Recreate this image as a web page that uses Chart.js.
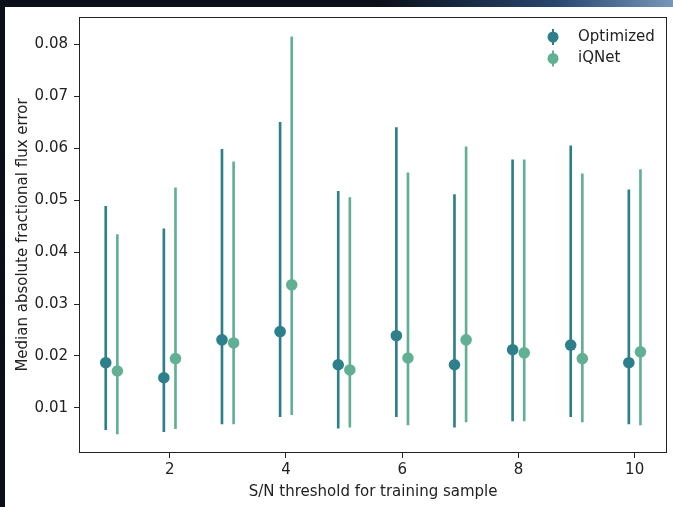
<!DOCTYPE html>
<html>
<head>
<meta charset="utf-8">
<script src="https://cdn.jsdelivr.net/npm/chart.js@4/dist/chart.umd.min.js"></script>
<style>
  html, body { margin: 0; padding: 0; background: #0b0f1a; }
  canvas { display: block; }
</style>
</head>
<body>
<canvas id="c" width="673" height="507"></canvas>
<script>
// ---- data ----
const thresholds = [1, 2, 3, 4, 5, 6, 7, 8, 9, 10];
const optMedian = [0.0187, 0.0158, 0.0231, 0.0247, 0.0183, 0.0239, 0.0183, 0.0212, 0.0221, 0.0187];
const optLow    = [0.0058, 0.0054, 0.0069, 0.0083, 0.0061, 0.0083, 0.0063, 0.0075, 0.0083, 0.0069];
const optHigh   = [0.0488, 0.0445, 0.0598, 0.0650, 0.0517, 0.0640, 0.0511, 0.0578, 0.0605, 0.0520];
const iqMedian  = [0.0171, 0.0195, 0.0225, 0.0337, 0.0173, 0.0196, 0.0231, 0.0206, 0.0195, 0.0208];
const iqLow     = [0.0050, 0.0060, 0.0069, 0.0087, 0.0063, 0.0067, 0.0073, 0.0075, 0.0073, 0.0067];
const iqHigh    = [0.0434, 0.0524, 0.0574, 0.0815, 0.0505, 0.0553, 0.0603, 0.0578, 0.0551, 0.0559];
const seriesNames = ['Optimized', 'iQNet'];
const yTickValues = [0.01, 0.02, 0.03, 0.04, 0.05, 0.06, 0.07, 0.08];
const xTickValues = [2, 4, 6, 8, 10];
const xTitle = 'S/N threshold for training sample';
const yTitle = 'Median absolute fractional flux error';

// ---- style ----
const dodge = 0.1;
const colOpt = '#2d7f8b';
const colIq = '#62b093';
const FONT = 'DejaVu Sans';
const FS = 15;
const ink = '#222222';

const pts = (med, off) => thresholds.map((t, i) => ({ x: t + off, y: med[i] }));
const bars = (lo, hi, off) => thresholds.map((t, i) => ({ x: t + off, y: [lo[i], hi[i]] }));

const bgPlugin = {
  id: 'bg',
  beforeDraw(chart) {
    const ctx = chart.ctx;
    ctx.save();
    ctx.fillStyle = '#0b0f1a';
    ctx.fillRect(0, 0, chart.width, chart.height);
    const g = ctx.createLinearGradient(380, 0, 673, 0);
    g.addColorStop(0, 'rgba(11,15,26,1)');
    g.addColorStop(0.6, 'rgba(40,70,110,1)');
    g.addColorStop(1, 'rgba(120,150,185,1)');
    ctx.fillStyle = g;
    ctx.fillRect(380, 0, 293, 7);
    ctx.fillStyle = '#ffffff';
    ctx.fillRect(5, 7, chart.width - 5, chart.height - 7);
    ctx.restore();
  },
  afterDraw(chart) {
    const ctx = chart.ctx;
    const a = chart.chartArea;
    ctx.save();
    ctx.strokeStyle = ink;
    ctx.lineWidth = 1;
    ctx.strokeRect(Math.round(a.left) + 0.5, Math.round(a.top) + 0.5,
                   Math.round(a.right - a.left) - 1, Math.round(a.bottom - a.top) - 1);
    // legend (errorbar-style markers)
    const cols = [colOpt, colIq];
    ctx.font = FS + 'px "' + FONT + '"';
    ctx.textBaseline = 'middle';
    ctx.textAlign = 'left';
    seriesNames.forEach((name, i) => {
      const y = 37 + i * 21.5;
      const mx = 553;
      ctx.strokeStyle = cols[i];
      ctx.lineWidth = 2;
      ctx.beginPath();
      ctx.moveTo(mx, y - 8);
      ctx.lineTo(mx, y + 8);
      ctx.stroke();
      ctx.fillStyle = cols[i];
      ctx.beginPath();
      ctx.arc(mx, y, 5.5, 0, Math.PI * 2);
      ctx.fill();
      ctx.fillStyle = ink;
      ctx.fillText(name, 578, y);
    });
    ctx.restore();
  }
};

new Chart(document.getElementById('c'), {
  type: 'bar',
  data: {
    datasets: [
      { type: 'bar', label: seriesNames[0] + ' err', data: bars(optLow, optHigh, -dodge),
        backgroundColor: colOpt, barThickness: 2, grouped: false, order: 3 },
      { type: 'bar', label: seriesNames[1] + ' err', data: bars(iqLow, iqHigh, dodge),
        backgroundColor: colIq, barThickness: 2, grouped: false, order: 3 },
      { type: 'scatter', label: seriesNames[0], data: pts(optMedian, -dodge),
        backgroundColor: colOpt, borderWidth: 0, pointRadius: 5.8, order: 1 },
      { type: 'scatter', label: seriesNames[1], data: pts(iqMedian, dodge),
        backgroundColor: colIq, borderWidth: 0, pointRadius: 5.8, order: 1 }
    ]
  },
  options: {
    responsive: false,
    animation: false,
    devicePixelRatio: 1,
    layout: { padding: { top: 17, right: 4, left: 0, bottom: 0 } },
    plugins: { legend: { display: false }, tooltip: { enabled: false } },
    scales: {
      x: {
        type: 'linear',
        min: 0.44, max: 10.56,
        offset: false,
        afterFit(s) { s.height = 54; },
        afterBuildTicks(s) { s.ticks = xTickValues.map(v => ({ value: v })); },
        grid: { offset: false, drawOnChartArea: false, drawTicks: true, tickLength: 5, tickColor: ink, tickWidth: 1 },
        border: { display: false },
        ticks: { color: ink, font: { family: FONT, size: FS }, padding: 3, maxRotation: 0,
                 callback: v => String(v) },
        title: { display: true, text: xTitle, color: ink, font: { family: FONT, size: FS },
                 padding: { top: 0, bottom: 6 } }
      },
      y: {
        type: 'linear',
        min: 0.0013, max: 0.0853,
        afterFit(s) { s.width = 79; },
        afterBuildTicks(s) { s.ticks = yTickValues.map(v => ({ value: v })); },
        grid: { drawOnChartArea: false, drawTicks: true, tickLength: 5, tickColor: ink, tickWidth: 1 },
        border: { display: false },
        ticks: { color: ink, font: { family: FONT, size: FS }, padding: 6,
                 callback: v => Number(v).toFixed(2) },
        title: { display: true, text: yTitle, color: ink, font: { family: FONT, size: FS },
                 padding: { top: 14, bottom: 0 } }
      }
    }
  },
  plugins: [bgPlugin]
});
</script>
</body>
</html>
